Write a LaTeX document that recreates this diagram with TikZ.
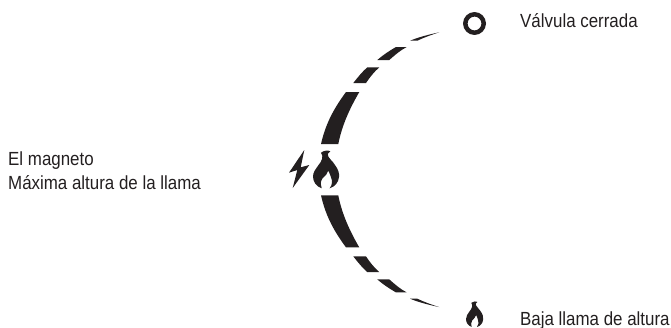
\documentclass[tikz,border=0pt]{standalone}
\usepackage{fontspec}
\setmainfont{Liberation Sans}[FakeStretch=0.89]
\definecolor{ink}{HTML}{231F20}
\newcommand\gaugesegs{%
  \fill (321,144) .. controls (326,122) and (335,107) .. (346,92) -- (359.3,92) .. controls (350,108) and (342,125) .. (338.3,144) -- cycle;
  \fill (353.3,83) .. controls (358,77) and (362,72) .. (367.3,67.3) -- (379.3,67.3) .. controls (374,72) and (370,77) .. (366,83) -- cycle;
  \fill (377.3,60) .. controls (383,55) and (389,51) .. (396,47) -- (406.7,47) .. controls (400,50.5) and (395,55) .. (389.3,60) -- cycle;
  \fill (410,40.7) .. controls (419,37) and (429,34.5) .. (439.3,32.3) .. controls (431,35) and (424,37.5) .. (417.3,40.7) -- cycle;
}
\newcommand\flamepath{%
  \fill (24,8) .. controls (34,1) and (46,0) .. (52,4)
    .. controls (44,8) and (42,14) .. (46,20)
    .. controls (50,28) and (58,32) .. (66,45)
    .. controls (76,58) and (80,72) .. (78,82)
    .. controls (76,98) and (66,110) .. (50,115)
    .. controls (58,105) and (59,93) .. (54,82)
    .. controls (52,76) and (50,70) .. (46,62)
    .. controls (45,72) and (36,76) .. (28,86)
    .. controls (22,95) and (22,106) .. (26,115)
    .. controls (10,110) and (0,95) .. (0,80)
    .. controls (0,66) and (8,58) .. (16,46)
    .. controls (26,34) and (33,20) .. (24,8) -- cycle;
}
\tikzset{label text/.style={anchor=base west,inner sep=0pt,font=\fontsize{19}{22}\selectfont,text=ink,align=left}}
\begin{document}
\begin{tikzpicture}[x=1pt,y=-1pt]
\useasboundingbox (0,0) rectangle (671,327);
\begin{scope}[fill=ink]
  \gaugesegs
  \begin{scope}[shift={(0,339.4)},yscale=-1]
    \gaugesegs
  \end{scope}
  \begin{scope}[shift={(313,150)},x=0.333pt,y=-0.333pt]
    \flamepath
  \end{scope}
  \begin{scope}[shift={(466,301)},x=0.22pt,y=-0.226pt]
    \flamepath
  \end{scope}
  \fill (304.3,150) -- (289,172.7) -- (297.3,170) -- (292.7,188) -- (309.3,165) -- (300.7,167.3) -- cycle;
\end{scope}
\draw[ink,line width=4.5pt] (474.5,23.5) circle (9.2);
\node[label text] (magneto) at (8,165.5) {El magneto};
\node[label text] (maxima) at (8,189) {Máxima altura de la llama};
\node[label text] (valvula) at (520,27.5) {Válvula cerrada};
\node[label text] (baja) at (520,325.7) {Baja llama de altura};
\end{tikzpicture}
\end{document}
